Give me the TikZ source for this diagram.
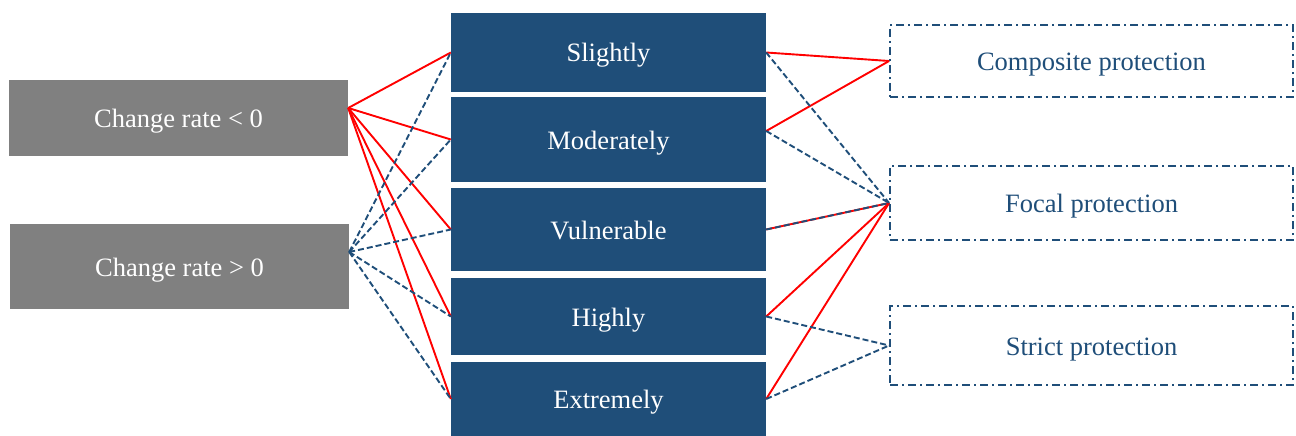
\documentclass[tikz,border=0pt]{standalone}
\usepackage{fontspec}
\setmainfont{Liberation Serif}
\usetikzlibrary{calc}
\definecolor{navy}{RGB}{31,78,121}
\definecolor{boxgray}{RGB}{128,128,128}
\definecolor{linkred}{RGB}{255,0,0}
\begin{document}
\begin{tikzpicture}[x=1pt,y=-1pt,
  every node/.style={inner sep=0pt,text height=19pt,text depth=0pt,
    font=\fontsize{26.5}{30}\selectfont},
  rate/.style={fill=boxgray,text=white,minimum width=339pt},
  level/.style={fill=navy,text=white,minimum width=315pt},
  measure/.style={draw=navy,text=navy,line width=1.8pt,minimum width=403pt,
    dash pattern=on 8pt off 4pt on 2pt off 4pt},
  redlink/.style={draw=linkred,line width=1.9pt},
  bluelink/.style={draw=navy,line width=1.9pt,dash pattern=on 6pt off 3pt}]
\useasboundingbox (0,0) rectangle (1296,436);
% change-rate boxes
\node[rate,minimum height=76pt] (neg) at (178.5,118) {Change rate < 0};
\node[rate,minimum height=85pt] (pos) at (179.5,266.5) {Change rate > 0};
% vulnerability levels
\node[level,minimum height=79pt] (sl) at (608.5,52.5) {Slightly};
\node[level,minimum height=85pt] (mo) at (608.5,139.5) {Moderately};
\node[level,minimum height=83pt] (vu) at (608.5,229.5) {Vulnerable};
\node[level,minimum height=77pt] (hi) at (608.5,316.5) {Highly};
\node[level,minimum height=74pt] (ex) at (608.5,399) {Extremely};
% protection measures
\node[measure,minimum height=72pt] (co) at (1091.5,61) {Composite protection};
\node[measure,minimum height=74pt] (fo) at (1091.5,203) {Focal protection};
\node[measure,minimum height=79pt] (st) at (1091.5,345.5) {Strict protection};
% links from decreasing change rate
\foreach \t in {sl,mo,vu,hi,ex}
  \draw[redlink] ($(neg.east)+(0,-10)$) -- (\t.west);
% links from increasing change rate
\foreach \t in {sl,mo,vu,hi,ex}
  \draw[bluelink] ($(pos.east)+(0,-14.5)$) -- (\t.west);
% links to protection measures
\draw[redlink] (sl.east) -- (co.west);
\draw[redlink] ($(mo.east)+(0,-8.5)$) -- (co.west);
\draw[redlink] (vu.east) -- (fo.west);
\draw[redlink] (hi.east) -- (fo.west);
\draw[redlink] (ex.east) -- (fo.west);
\draw[bluelink] (sl.east) -- (fo.west);
\draw[bluelink] ($(mo.east)+(0,-8.5)$) -- (fo.west);
\draw[bluelink] (vu.east) -- (fo.west);
\draw[bluelink] (hi.east) -- (st.west);
\draw[bluelink] (ex.east) -- (st.west);
\end{tikzpicture}
\end{document}
